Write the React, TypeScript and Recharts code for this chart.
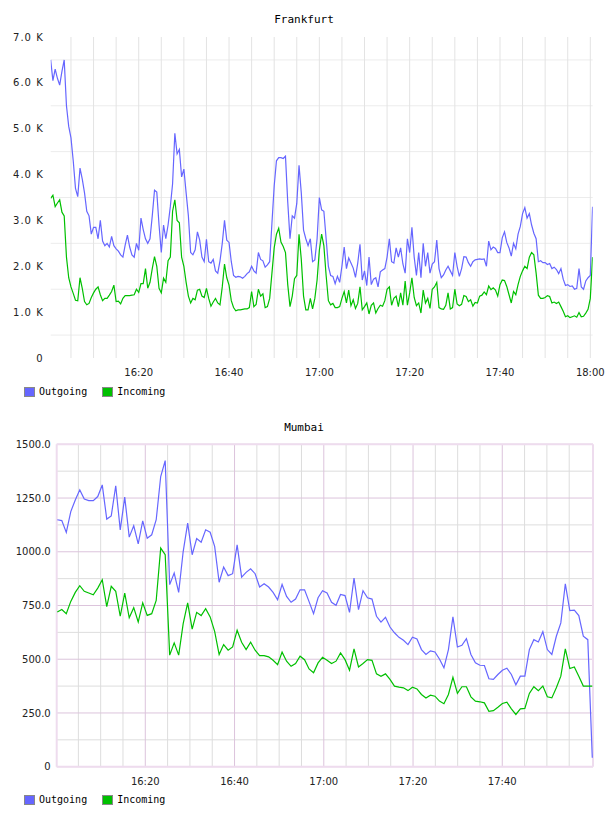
import React from "react";
import { LineChart, Line, XAxis, YAxis, CartesianGrid } from "recharts";

// Frankfurt: one sample every 30 s from 16:00:30, values in K
const frankfurtStart = 0.5;
const frankfurtStep = 0.5;
const frankfurtOutgoing = [
  6.5, 6.05, 6.3, 6.1, 5.95, 6.25, 6.5, 5.5, 5.05, 4.8,
  4.3, 3.7, 3.52, 4.14, 3.9, 3.6, 3.2, 3.1, 2.7, 2.85,
  2.85, 2.6, 3.0, 2.55, 2.45, 2.5, 2.42, 2.65, 2.45, 2.38,
  2.33, 2.25, 2.2, 2.46, 2.68, 2.42, 2.25, 2.2, 2.5, 2.35,
  3.05, 2.8, 2.6, 2.5, 2.6, 3.1, 3.66, 3.62, 2.9, 2.3,
  2.9, 2.6, 2.9, 3.3, 3.8, 4.9, 4.45, 4.55, 3.95, 4.12,
  3.6, 3.1, 2.3, 2.25, 2.36, 2.75, 2.57, 2.2, 2.1, 2.59,
  2.1, 2.07, 2.15, 1.9, 1.85, 2.12, 2.5, 3.0, 2.57, 2.52,
  2.1, 1.8, 1.76, 1.78, 1.77, 1.74, 1.78, 1.84, 1.88, 2.0,
  1.9, 1.85, 2.3, 2.15, 2.12, 1.98, 2.03, 2.1, 2.94, 3.75,
  4.3, 4.37, 4.37, 4.35, 4.4, 3.4, 2.6, 3.1, 3.05, 3.37,
  4.2, 3.6, 2.79, 2.6, 2.45, 2.6, 2.1, 2.14, 2.6, 3.5,
  3.23, 3.2, 2.6, 2.0, 1.8, 1.78, 1.62, 1.78, 1.65, 2.0,
  2.42, 1.95, 2.18, 2.07, 1.96, 1.76, 2.07, 2.48, 1.7, 1.9,
  1.58, 2.2, 1.6, 1.72, 1.75, 1.55, 1.88, 1.92, 1.95, 2.2,
  2.6, 2.1, 2.07, 2.4, 2.2, 2.4, 2.05, 1.85, 2.6, 2.3,
  2.85, 2.2, 1.8, 2.3, 1.75, 2.5, 2.0, 2.3, 1.85, 2.05,
  2.1, 2.57, 1.95, 1.75, 1.81, 1.92, 2.0, 1.9, 1.8, 2.3,
  2.0, 1.78, 1.95, 2.21, 2.2, 2.08, 2.0, 2.1, 2.14, 2.15,
  2.16, 2.15, 2.16, 2.0, 2.55, 2.36, 2.42, 2.39, 2.3, 2.3,
  2.62, 2.75, 2.52, 2.4, 2.22, 2.5, 2.38, 2.7, 2.87, 3.15,
  3.28, 3.05, 3.15, 2.9, 2.72, 2.6, 2.1, 2.12, 2.08, 2.08,
  2.04, 2.06, 1.95, 1.98, 1.93, 1.84, 1.95, 1.72, 1.58, 1.6,
  1.56, 1.57, 1.5, 1.52, 1.95, 1.55, 1.5, 1.68, 1.75, 1.8,
  3.3,
];
const frankfurtIncoming = [
  3.48, 3.55, 3.3, 3.38, 3.45, 3.18, 3.1, 2.2, 1.75, 1.55,
  1.41, 1.26, 1.25, 1.75, 1.52, 1.23, 1.16, 1.19, 1.32, 1.42,
  1.5, 1.55, 1.38, 1.25, 1.3, 1.3, 1.37, 1.45, 1.59, 1.23,
  1.24, 1.18, 1.3, 1.36, 1.36, 1.36, 1.37, 1.38, 1.5, 1.43,
  1.62, 1.62, 1.95, 1.52, 1.65, 1.95, 2.21, 2.0, 1.52, 1.42,
  1.74, 1.65, 2.12, 2.2, 3.2, 3.45, 3.0, 2.95, 2.2, 2.0,
  1.65, 1.35, 1.2, 1.3, 1.27, 1.48, 1.5, 1.35, 1.32, 1.52,
  1.3, 1.13, 1.22, 1.3, 1.2, 1.16, 1.55, 2.05, 1.75, 1.59,
  1.25, 1.1, 1.03, 1.05, 1.05, 1.06, 1.07, 1.07, 1.1, 1.45,
  1.12, 1.17, 1.5, 1.35, 1.4, 1.1, 1.12, 1.3, 1.85, 2.4,
  2.7, 2.83, 2.53, 2.43, 2.3, 1.6, 1.12, 1.35, 1.73, 1.8,
  2.7, 2.15, 1.35, 1.05, 1.05, 1.3, 1.07, 1.3, 1.7, 2.35,
  2.7, 2.45, 1.8, 1.25, 1.16, 1.19, 1.1, 1.1, 1.12, 1.3,
  1.45, 1.2, 1.48, 1.14, 1.27, 1.08, 1.19, 1.55, 1.05, 1.12,
  1.2, 0.96, 1.15, 1.2, 0.98, 1.08, 1.15, 1.13, 1.25, 1.5,
  1.55, 1.15, 1.3, 1.35, 1.12, 1.42, 1.15, 1.68, 1.15, 1.42,
  1.75, 1.32, 1.14, 1.2, 0.98, 1.48, 1.2, 1.3, 1.08, 1.5,
  1.55, 1.65, 1.1, 1.07, 1.06, 1.15, 1.42, 1.07, 1.1, 1.5,
  1.18, 1.14, 1.17, 1.36, 1.34, 1.23, 1.27, 1.13, 1.21, 1.2,
  1.35, 1.37, 1.44, 1.38, 1.57, 1.49, 1.53, 1.48, 1.35, 1.6,
  1.7, 1.69, 1.56, 1.38, 1.2, 1.45, 1.38, 1.6, 1.78, 1.9,
  2.0, 1.95, 2.2, 2.3, 2.25, 1.85, 1.37, 1.3, 1.3, 1.32,
  1.36, 1.34, 1.2, 1.22, 1.19, 1.22, 1.12, 1.02, 0.9, 0.92,
  0.88, 0.9, 0.92, 0.89, 0.99, 0.9, 0.91, 0.98, 1.06, 1.3,
  2.2,
];

// Mumbai: roughly one sample a minute from 16:00:17
const mumbaiStart = 0.28;
const mumbaiStep = 1.0075;
const mumbaiOutgoing = [
  1149, 1145, 1090, 1187, 1241, 1288, 1245, 1238, 1238, 1257,
  1311, 1152, 1167, 1307, 1102, 1254, 1068, 1121, 1037, 1144,
  1063, 1079, 1149, 1350, 1424, 847, 901, 811, 1001, 1133,
  986, 1061, 1044, 1102, 1091, 1025, 858, 929, 889, 898,
  1032, 882, 904, 921, 898, 836, 851, 836, 811, 777,
  848, 792, 765, 780, 823, 823, 768, 712, 786, 819,
  808, 765, 751, 801, 796, 718, 878, 731, 819, 786,
  780, 700, 673, 695, 650, 623, 602, 588, 568, 602,
  594, 545, 522, 539, 534, 501, 460, 545, 697, 557,
  565, 596, 522, 483, 472, 471, 409, 406, 429, 449,
  458, 429, 381, 421, 421, 545, 591, 580, 628, 545,
  522, 607, 669, 851, 726, 728, 703, 607, 591, 42,
];
const mumbaiIncoming = [
  720, 731, 712, 769, 811, 842, 816, 808, 800, 831,
  870, 745, 839, 816, 700, 808, 693, 740, 673, 762,
  704, 712, 774, 1017, 986, 519, 576, 519, 666, 762,
  640, 718, 703, 735, 697, 630, 522, 568, 542, 557,
  635, 579, 545, 579, 542, 517, 517, 511, 495, 475,
  533, 491, 467, 480, 514, 498, 455, 437, 483, 509,
  495, 480, 491, 529, 498, 449, 548, 464, 480, 498,
  495, 432, 421, 432, 406, 375, 370, 367, 354, 370,
  362, 336, 320, 333, 328, 305, 293, 336, 416, 341,
  372, 372, 325, 305, 302, 297, 258, 261, 277, 294,
  300, 269, 243, 269, 271, 341, 372, 354, 375, 325,
  320, 367, 421, 548, 457, 464, 421, 375, 375, 375,
];

// axis ticks, minutes after 16:00
const frankfurtTimeTicks = [20, 40, 60, 80, 100, 120];
const mumbaiTimeTicks = [20, 40, 60, 80, 100];
const fiveMinuteLines = [5, 10, 15, 20, 25, 30, 35, 40, 45, 50, 55, 60, 65, 70, 75, 80, 85, 90, 95, 100, 105, 110, 115, 120];
const frankfurtValueTicks = [0, 1, 2, 3, 4, 5, 6, 7];
const frankfurtValueLines = [0.5, 1.5, 2.5, 3.5, 4.5, 5.5, 6.5];
const mumbaiValueTicks = [0, 250, 500, 750, 1000, 1250, 1500];
const mumbaiMinorLines = [125, 375, 625, 875, 1125, 1375];

const OUT = "#6666ff";
const IN = "#00c000";

const toRows = (start: number, step: number, outgoing: number[], incoming: number[]) =>
  outgoing.map((v, i) => ({ t: start + i * step, outgoing: v, incoming: incoming[i] }));

const frankfurtRows = toRows(frankfurtStart, frankfurtStep, frankfurtOutgoing, frankfurtIncoming);
const mumbaiRows = toRows(mumbaiStart, mumbaiStep, mumbaiOutgoing, mumbaiIncoming);

const pad = (n: number) => (n < 10 ? "0" + n : "" + n);
const clock = (m: number) => `${16 + Math.floor(m / 60)}:${pad(Math.round(m % 60))}`;

const tickStyle = { fontFamily: "DejaVu Sans", fontSize: 10, fill: "#222" };
const mono = "'DejaVu Sans Mono', monospace";

function Title({ text, top }: { text: string; top: number }) {
  return (
    <div
      style={{
        position: "absolute", top, left: 0, width: 608, textAlign: "center",
        fontFamily: mono, fontSize: 11, lineHeight: "12px", color: "#000",
      }}
    >
      {text}
    </div>
  );
}

function Legend({ top }: { top: number }) {
  const item = (color: string, label: string, gap: number) => (
    <div style={{ display: "flex", alignItems: "center", marginRight: gap }}>
      <div style={{ width: 9, height: 8, background: color, border: "1px solid #888", marginRight: 4 }} />
      <span style={{ fontFamily: mono, fontSize: 10, lineHeight: "10px", color: "#000" }}>{label}</span>
    </div>
  );
  return (
    <div style={{ position: "absolute", top, left: 24, display: "flex", height: 10 }}>
      {item(OUT, "Outgoing", 15)}
      {item(IN, "Incoming", 0)}
    </div>
  );
}

function Frankfurt() {
  return (
    <div style={{ position: "absolute", top: 0, left: 0 }}>
      <LineChart width={608} height={380} data={frankfurtRows} margin={{ top: 37, right: 15.3, bottom: 2, left: 0 }}>
        <CartesianGrid stroke="#ececec" vertical={false} horizontalValues={frankfurtValueLines} />
        <CartesianGrid stroke="#e3e3e3" horizontal={false} verticalValues={fiveMinuteLines} />
        <XAxis
          dataKey="t" type="number" domain={[0.51, 120.53]} allowDataOverflow
          ticks={frankfurtTimeTicks} tickFormatter={clock} interval={0}
          axisLine={false} tickLine={false} tickSize={6} tickMargin={5} height={20} tick={tickStyle}
        />
        <YAxis
          type="number" domain={[0, 7]} ticks={frankfurtValueTicks} interval={0}
          tickFormatter={(v: number) => (v === 0 ? "0" : `${v.toFixed(1)} K`)}
          axisLine={false} tickLine={false} tickSize={6} tickMargin={1} width={50.7}
          tick={{ ...tickStyle, letterSpacing: 1 }}
        />
        <Line dataKey="outgoing" stroke={OUT} strokeWidth={1.2} dot={false} isAnimationActive={false} />
        <Line dataKey="incoming" stroke={IN} strokeWidth={1.2} dot={false} isAnimationActive={false} />
      </LineChart>
    </div>
  );
}

function Mumbai() {
  return (
    <div style={{ position: "absolute", top: 400, left: 0 }}>
      <LineChart width={608} height={390} data={mumbaiRows} margin={{ top: 44.3, right: 15, bottom: 3.3, left: 0 }}>
        <CartesianGrid stroke="#dddddd" vertical={false} horizontalValues={mumbaiMinorLines} />
        <CartesianGrid stroke="#dddddd" horizontal={false} verticalValues={fiveMinuteLines.filter((m) => m % 20 !== 0)} />
        <CartesianGrid stroke="#dcc4dc" horizontalValues={mumbaiValueTicks} verticalValues={mumbaiTimeTicks} />
        <CartesianGrid stroke="#eedcee" strokeWidth={2} horizontalValues={[0, 1500]} verticalValues={[0.146, 120.33]} />
        <XAxis
          dataKey="t" type="number" domain={[0.146, 120.33]} allowDataOverflow
          ticks={mumbaiTimeTicks} tickFormatter={clock} interval={0}
          axisLine={false} tickLine={false} tickSize={6} tickMargin={5} height={20} tick={tickStyle}
        />
        <YAxis
          type="number" domain={[0, 1500]} ticks={mumbaiValueTicks} interval={0}
          tickFormatter={(v: number) => (v === 0 ? "0" : v.toFixed(1))}
          axisLine={false} tickLine={false} tickSize={6} tickMargin={0} width={56.7} tick={tickStyle}
        />
        <Line dataKey="outgoing" stroke={OUT} strokeWidth={1.2} dot={false} isAnimationActive={false} />
        <Line dataKey="incoming" stroke={IN} strokeWidth={1.2} dot={false} isAnimationActive={false} />
      </LineChart>
    </div>
  );
}

export default function App() {
  return (
    <div style={{ position: "absolute", top: 0, left: 0, width: 608, height: 816, background: "#fff" }}>
      <Title text="Frankfurt" top={14} />
      <Frankfurt />
      <Legend top={387} />
      <Title text="Mumbai" top={422} />
      <Mumbai />
      <Legend top={795} />
    </div>
  );
}
